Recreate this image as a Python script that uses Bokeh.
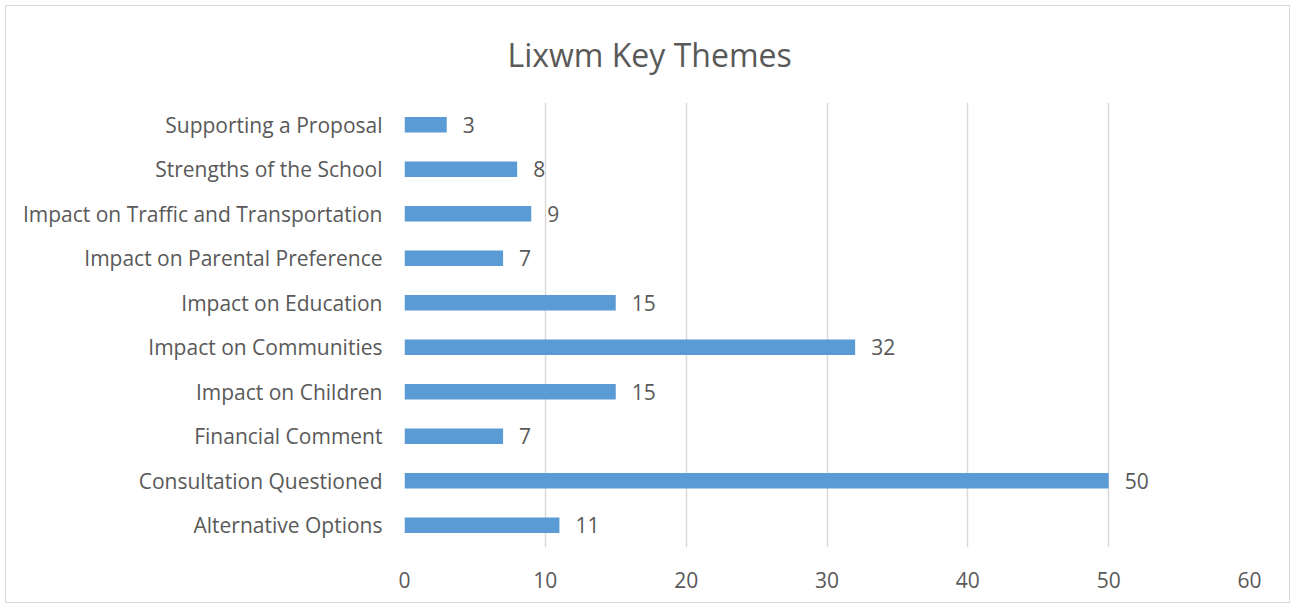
from bokeh.plotting import figure
from bokeh.models import ColumnDataSource, Range1d, FixedTicker, LabelSet
from bokeh.core.properties import value
from bokeh.embed import file_html
from bokeh.resources import INLINE

categories = ["Alternative Options", "Consultation Questioned", "Financial Comment",
              "Impact on Children", "Impact on Communities", "Impact on Education",
              "Impact on Parental Preference", "Impact on Traffic and Transportation",
              "Strengths of the School", "Supporting a Proposal"]
values = [11, 50, 7, 15, 32, 15, 7, 9, 8, 3]
x_ticks = [0, 10, 20, 30, 40, 50, 60]
title_text = "Lixwm Key Themes"

FONT = "Open Sans"
TXT = "#595959"

src = ColumnDataSource(dict(cat=categories, val=values, lab=[str(v) for v in values]))

W, H = 1285, 598
ML, MR, MT, MB = 398, 42, 96, 57
TITLE_W = 283  # approximate rendered width of the title text

p = figure(width=W, height=H, y_range=categories, x_range=Range1d(0, 60),
           output_backend="svg", toolbar_location=None,
           min_border_left=ML, min_border_right=MR, min_border_top=MT, min_border_bottom=MB,
           title=title_text)
p.styles = {"border": "1px solid #d9d9d9", "margin-left": "5px", "margin-top": "5px"}
p.outline_line_color = None

# left-aligned title shifted so that it is centred on the whole figure
p.title.align = "left"
p.title.offset = W / 2 - ML - TITLE_W / 2
p.title.vertical_align = "top"
p.title.text_font = FONT
p.title.text_font_size = "32px"
p.title.text_font_style = "normal"
p.title.text_color = TXT
p.title.standoff = 50

p.hbar(y="cat", right="val", left=0, height=0.35, source=src, color="#5B9BD5", line_color=None)

labels = LabelSet(x="val", y="cat", text="lab", source=src, x_offset=16,
                  text_baseline="middle", text_font=value(FONT), text_font_size=value("21px"),
                  text_color=value(TXT))
p.add_layout(labels)

p.xgrid.ticker = FixedTicker(ticks=x_ticks)
p.xgrid.grid_line_color = "#d9d9d9"
p.xgrid.grid_line_width = 1.5
p.ygrid.grid_line_color = None

p.xaxis.ticker = FixedTicker(ticks=x_ticks)
for ax in (p.xaxis[0], p.yaxis[0]):
    ax.axis_line_color = None
    ax.major_tick_line_color = None
    ax.minor_tick_line_color = None
    ax.major_label_text_font = FONT
    ax.major_label_text_font_size = "21px"
    ax.major_label_text_color = TXT
p.xaxis.major_label_standoff = 18
p.yaxis.major_label_standoff = 16

open("out.html", "w").write(file_html(p, INLINE))
